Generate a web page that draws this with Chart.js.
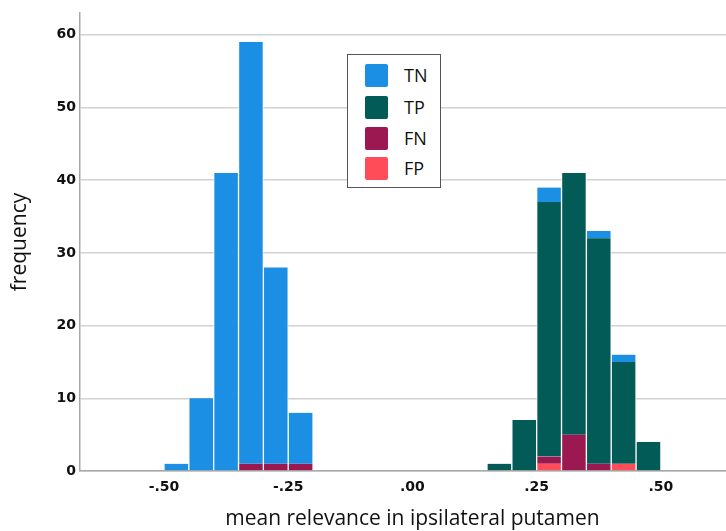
<!DOCTYPE html>
<html>
<head>
<meta charset="utf-8">
<script src="https://cdn.jsdelivr.net/npm/chart.js@4/dist/chart.umd.min.js"></script>
<style>
  html, body { margin: 0; padding: 0; background: #fff; }
  #wrap { position: relative; width: 726px; height: 531px; }
  #legend {
    position: absolute; left: 347px; top: 54px; width: 92px; height: 132px;
    border: 1px solid #555; background: #fff; box-sizing: content-box;
    font-family: "Open Sans", "Noto Sans", sans-serif; font-size: 18px; color: #111;
  }
  #legend .row { position: absolute; left: 17px; height: 24px; display: flex; align-items: center; }
  #legend .sw { width: 23px; height: 23px; border-radius: 2px; }
  #legend .lb { margin-left: 16px; line-height: 24px; }
</style>
</head>
<body>
<div id="wrap">
  <canvas id="c" width="726" height="531"></canvas>
  <div id="legend"></div>
</div>
<script>
// Bin centres (bin width 0.05)
const binCenters = [-0.475, -0.425, -0.375, -0.325, -0.275, -0.225, -0.175, -0.125, -0.075, -0.025,
                     0.025,  0.075,  0.125,  0.175,  0.225,  0.275,  0.325,  0.375,  0.425,  0.475];
const tnCounts = [1, 10, 41, 58, 27, 7, 0, 0, 0, 0, 0, 0, 0, 0, 0, 2, 0, 1, 1, 0];
const tpCounts = [0, 0, 0, 0, 0, 0, 0, 0, 0, 0, 0, 0, 0, 1, 7, 35, 36, 31, 14, 4];
const fnCounts = [0, 0, 0, 1, 1, 1, 0, 0, 0, 0, 0, 0, 0, 0, 0, 1, 5, 1, 0, 0];
const fpCounts = [0, 0, 0, 0, 0, 0, 0, 0, 0, 0, 0, 0, 0, 0, 0, 1, 0, 0, 1, 0];
const xTickValues = [-0.5, -0.25, 0, 0.25, 0.5];
const yTickValues = [0, 10, 20, 30, 40, 50, 60];
const seriesNames = ['TN', 'TP', 'FN', 'FP'];
const seriesColors = {TN: '#1A8FE3', TP: '#035B58', FN: '#9B1850', FP: '#FF4C58'};
const seriesData = {TN: tnCounts, TP: tpCounts, FN: fnCounts, FP: fpCounts};
const xTitle = 'mean relevance in ipsilateral putamen';

// stacking order bottom -> top
const stackOrder = ['FP', 'FN', 'TP', 'TN'];
const datasets = stackOrder.map(name => ({
  label: name,
  data: binCenters.map((x, i) => ({x: x, y: seriesData[name][i]})),
  backgroundColor: seriesColors[name],
  borderColor: 'rgba(255,255,255,0.85)',
  borderWidth: {left: 1, right: 1, top: 0, bottom: 0},
  borderSkipped: false,
  categoryPercentage: 1.0,
  barPercentage: 1.0
}));

function fmtX(v) {
  const s = Math.abs(v).toFixed(2).replace(/^0/, '');
  return (v < 0 ? '-' : '') + s;
}

// x-axis title centred under the zero tick, as in the original
const xTitlePlugin = {
  id: 'xTitle',
  afterDraw(chart) {
    const ctx = chart.ctx;
    const xs = chart.scales.x;
    ctx.save();
    ctx.font = '21px "Open Sans", "Noto Sans", sans-serif';
    ctx.fillStyle = '#111';
    ctx.textAlign = 'center';
    ctx.textBaseline = 'middle';
    ctx.fillText(xTitle, xs.getPixelForValue(0), xs.bottom - 12);
    ctx.restore();
  }
};

new Chart(document.getElementById('c'), {
  type: 'bar',
  data: { datasets },
  plugins: [xTitlePlugin],
  options: {
    responsive: false,
    animation: false,
    layout: { padding: { top: 13, right: 0, left: 0, bottom: 0 } },
    plugins: { legend: { display: false }, tooltip: { enabled: false } },
    scales: {
      x: {
        type: 'linear',
        stacked: true,
        offset: false,
        min: -0.669,
        max: 0.631,
        afterBuildTicks: s => { s.ticks = xTickValues.map(v => ({value: v})); },
        afterFit: s => { s.height = 60; },
        grid: { display: false, drawTicks: false },
        border: { display: true, color: '#a8a8a8', width: 1.5 },
        ticks: {
          padding: 8,
          color: '#111',
          font: { family: 'DejaVu Sans, sans-serif', size: 14, weight: 'bold' },
          callback: v => fmtX(v)
        },
        title: { display: false }
      },
      y: {
        stacked: true,
        min: 0,
        max: 63,
        afterBuildTicks: s => { s.ticks = yTickValues.map(v => ({value: v})); },
        afterFit: s => { s.width = 80; },
        grid: { color: '#d2d2d2', lineWidth: 1.5, drawTicks: false },
        border: { display: true, color: '#a8a8a8', width: 1.5 },
        ticks: {
          padding: 4,
          color: '#111',
          font: { family: 'DejaVu Sans, sans-serif', size: 14, weight: 'bold' }
        },
        title: {
          display: true,
          text: 'frequency',
          color: '#111',
          font: { family: 'Open Sans, Noto Sans, sans-serif', size: 21 },
          padding: { top: 7, bottom: 0 }
        }
      }
    }
  }
});

// HTML legend
const leg = document.getElementById('legend');
const rowTops = [8, 40, 71, 101];
seriesNames.forEach((name, i) => {
  const row = document.createElement('div');
  row.className = 'row';
  row.style.top = rowTops[i] + 'px';
  const sw = document.createElement('div');
  sw.className = 'sw';
  sw.style.background = seriesColors[name];
  const lb = document.createElement('div');
  lb.className = 'lb';
  lb.textContent = name;
  row.appendChild(sw); row.appendChild(lb);
  leg.appendChild(row);
});
</script>
</body>
</html>
